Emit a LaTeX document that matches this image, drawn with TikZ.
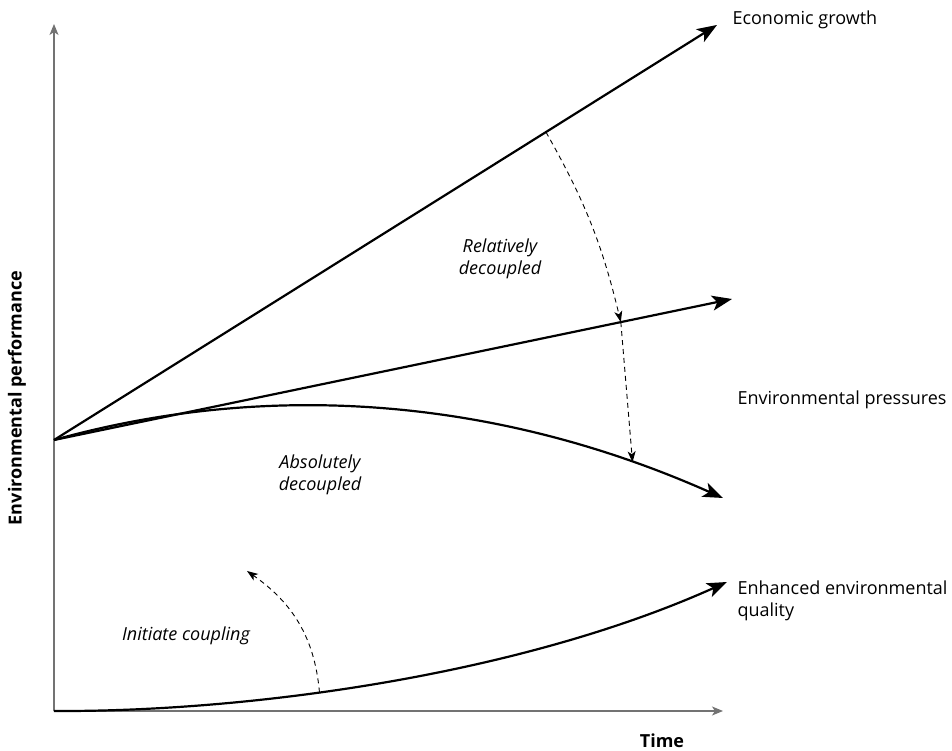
\documentclass[tikz,border=0pt]{standalone}
\usepackage{fontspec}
\setmainfont{Open Sans}
\usetikzlibrary{arrows.meta}

\begin{document}
\begin{tikzpicture}[x=1pt,y=1pt,
  axisline/.style={draw=black!55,line width=1.4pt,-{Stealth[length=11pt,width=9pt,inset=3pt]}},
  trend/.style={line width=2.2pt,-{Stealth[length=20pt,width=15pt,inset=5pt]}},
  shiftarr/.style={dash pattern=on 5pt off 4pt,line width=0.9pt,-{Stealth[length=11pt,width=8pt,inset=3pt]}},
  lbl/.style={font=\fontsize{18}{22}\selectfont,align=left,anchor=west},
  note/.style={font=\fontsize{18}{22}\selectfont\itshape,align=center},
  axlbl/.style={font=\fontsize{18}{22}\selectfont\bfseries}]
\useasboundingbox (0,0) rectangle (952,751);

\coordinate (O) at (54,40);
\coordinate (S) at (54,311);

% axes
\draw[axisline] (O)--(54,727) coordinate (ytop);
\draw[axisline] (O)--(723,40) coordinate (xend);

% trends
\draw[trend] (S)-- coordinate[pos=0.742] (g1) (717,726) coordinate (G);
\draw[trend] (S)-- coordinate[pos=0.836] (p1) (732,452) coordinate (P);
\draw[trend] (S) .. controls (250,366) and (480,361) .. coordinate[pos=0.875] (c1) (723,253) coordinate (C);
\draw[trend] (O) .. controls (250,39) and (520,76) .. coordinate[pos=0.405] (e1) (727,169) coordinate (E);

% shifts
\draw[shiftarr] (g1) to[bend left=8] (p1);
\draw[shiftarr] (p1)--(c1);
\coordinate (ie) at (247,180);
\draw[shiftarr] (e1) to[out=95,in=-35] (ie);

\node[lbl] (eg) at (729,731) {Economic growth};
\node[lbl] (ep) at (734,351) {Environmental pressures};
\node[lbl] (eq) at (734,150) {Enhanced environmental\\quality};
\node[note] (rd) at (500,492) {Relatively\\decoupled};
\node[note] (ad) at (320,276) {Absolutely\\decoupled};
\node[note] (ic) at (186,115) {Initiate coupling};
\node[axlbl] (tm) at (662,10) {Time};
\node[axlbl,rotate=90] (ya) at (17,353) {Environmental performance};
\end{tikzpicture}
\end{document}
